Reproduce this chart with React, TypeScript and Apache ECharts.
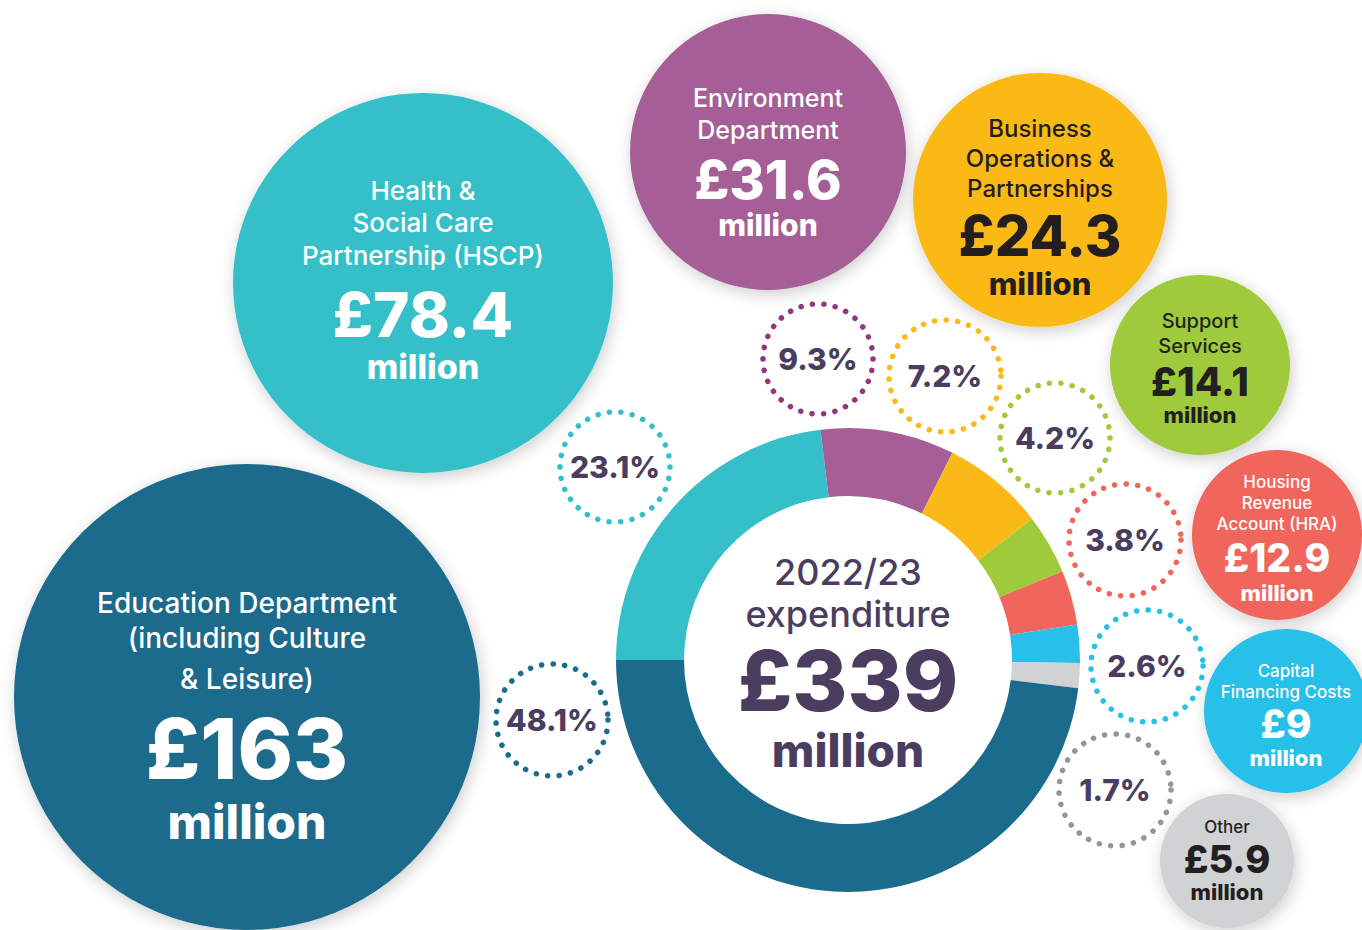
import React, { useEffect, useRef } from "react";
import * as echarts from "echarts";

// ---------- data ----------
const categories = [
  "Education Department (including Culture & Leisure)",
  "Health & Social Care Partnership (HSCP)",
  "Environment Department",
  "Business Operations & Partnerships",
  "Support Services",
  "Housing Revenue Account (HRA)",
  "Capital Financing Costs",
  "Other",
];
const valuesMillion = [163, 78.4, 31.6, 24.3, 14.1, 12.9, 9, 5.9];
const percentLabels = ["48.1%", "23.1%", "9.3%", "7.2%", "4.2%", "3.8%", "2.6%", "1.7%"];
const valueLabels = ["£163", "£78.4", "£31.6", "£24.3", "£14.1", "£12.9", "£9", "£5.9"];
const unitLabel = "million";
const titleLines = [
  ["Education Department", "(including Culture", "& Leisure)"],
  ["Health &", "Social Care", "Partnership (HSCP)"],
  ["Environment", "Department"],
  ["Business", "Operations &", "Partnerships"],
  ["Support", "Services"],
  ["Housing", "Revenue", "Account (HRA)"],
  ["Capital", "Financing Costs"],
  ["Other"],
];
const centreTitle = ["2022/23", "expenditure"];
const totalLabel = "£339";
// order of slices clockwise from 9 o'clock
const sliceOrder = [1, 2, 3, 4, 5, 6, 7, 0];

// ---------- styles / layout ----------
const FONT = "Inter, Lato, sans-serif";
const DARK = "#4b3d5f";
const colors = ["#1a6b8c", "#35c0c9", "#a65f96", "#fbb917", "#9fca3a", "#f0665c", "#28c0e8", "#d1d2d4"];
const dotColors = ["#1a6b8c", "#35c0c9", "#93367f", "#fbb917", "#9fca3a", "#f0665c", "#28c0e8", "#939598"];

type Bubble = {
  cx: number; cy: number; r: number;
  titleY: number[]; titleSize: number;
  valueY: number; valueSize: number;
  unitY: number; unitSize: number;
  text: string;
};
const bubbles: Bubble[] = [
  { cx: 247, cy: 697, r: 233, titleY: [603, 638, 679], titleSize: 28, valueY: 748, valueSize: 84, unitY: 821, unitSize: 48, text: "#ffffff" },
  { cx: 423, cy: 283, r: 190, titleY: [190, 222, 255], titleSize: 26, valueY: 314, valueSize: 62, unitY: 366, unitSize: 34, text: "#ffffff" },
  { cx: 768, cy: 152, r: 138, titleY: [98, 130], titleSize: 25, valueY: 179, valueSize: 54, unitY: 225, unitSize: 30, text: "#ffffff" },
  { cx: 1040, cy: 200, r: 127, titleY: [128, 158, 188], titleSize: 24, valueY: 236, valueSize: 56, unitY: 283, unitSize: 31, text: "#231f20" },
  { cx: 1200, cy: 365, r: 90, titleY: [321, 346], titleSize: 20, valueY: 381, valueSize: 40, unitY: 415, unitSize: 22, text: "#231f20" },
  { cx: 1277, cy: 535, r: 85, titleY: [482, 503, 524], titleSize: 17, valueY: 557, valueSize: 39, unitY: 593, unitSize: 22, text: "#ffffff" },
  { cx: 1286, cy: 711, r: 82, titleY: [671, 692], titleSize: 17, valueY: 723, valueSize: 39, unitY: 758, unitSize: 22, text: "#ffffff" },
  { cx: 1227, cy: 861, r: 67, titleY: [827], titleSize: 17, valueY: 859, valueSize: 38, unitY: 892, unitSize: 22, text: "#231f20" },
];
const dotCircles = [
  { cx: 552, cy: 720, r: 56 },
  { cx: 615, cy: 467, r: 55 },
  { cx: 818, cy: 359, r: 55 },
  { cx: 945, cy: 376, r: 56 },
  { cx: 1055, cy: 438, r: 55 },
  { cx: 1125, cy: 540, r: 56 },
  { cx: 1147, cy: 666, r: 56 },
  { cx: 1115, cy: 790, r: 56 },
];

function txt(text: string, x: number, y: number, size: number, fill: string, weight: number, z = 10) {
  return {
    type: "text",
    z,
    silent: true,
    style: {
      text, x, y, fill,
      font: `${weight} ${size}px ${FONT}`,
      align: "center", verticalAlign: "middle",
      textAlign: "center", textVerticalAlign: "middle",
    },
  };
}

export default function App() {
  const ref = useRef<HTMLDivElement>(null);
  useEffect(() => {
    if (!ref.current) return;
    const chart = echarts.init(ref.current, undefined, { renderer: "svg" });
    const graphics: any[] = [];
    bubbles.forEach((b, i) => {
      graphics.push({
        type: "circle", z: 1, silent: true,
        shape: { cx: b.cx, cy: b.cy, r: b.r },
        style: { fill: colors[i], shadowBlur: 16, shadowColor: "rgba(0,0,0,0.2)", shadowOffsetX: 2, shadowOffsetY: 4 },
      });
      titleLines[i].forEach((line, k) => graphics.push(txt(line, b.cx, b.titleY[k], b.titleSize, b.text, 500)));
      graphics.push(txt(valueLabels[i], b.cx, b.valueY, b.valueSize, b.text, 800));
      graphics.push(txt(unitLabel, b.cx, b.unitY, b.unitSize, b.text, 800));
    });
    dotCircles.forEach((d, i) => {
      graphics.push({
        type: "circle", z: 2, silent: true,
        shape: { cx: d.cx, cy: d.cy, r: d.r },
        style: { fill: "none", stroke: dotColors[i], lineWidth: 5.5, lineDash: [0.1, 11.4], lineCap: "round" },
      });
      graphics.push(txt(percentLabels[i], d.cx, d.cy, 30, DARK, 800));
    });
    graphics.push(txt(centreTitle[0], 848, 572, 36, DARK, 500, 20));
    graphics.push(txt(centreTitle[1], 848, 614, 36, DARK, 500, 20));
    graphics.push(txt(totalLabel, 848, 680, 84, DARK, 800, 20));
    graphics.push(txt(unitLabel, 848, 750, 46, DARK, 800, 20));

    chart.setOption({
      animation: false,
      backgroundColor: "#ffffff",
      graphic: { elements: graphics },
      series: [
        {
          type: "pie",
          center: [848, 660],
          radius: [164, 232],
          startAngle: 180,
          clockwise: true,
          silent: true,
          label: { show: false },
          labelLine: { show: false },
          itemStyle: { borderWidth: 0 },
          data: sliceOrder.map((i) => ({
            name: categories[i],
            value: valuesMillion[i],
            itemStyle: { color: colors[i] },
          })),
        },
      ],
    });
    return () => chart.dispose();
  }, []);
  return (
    <div
      ref={ref}
      style={{ position: "fixed", left: 0, top: 0, width: 1362, height: 930, background: "#fff" }}
    />
  );
}
